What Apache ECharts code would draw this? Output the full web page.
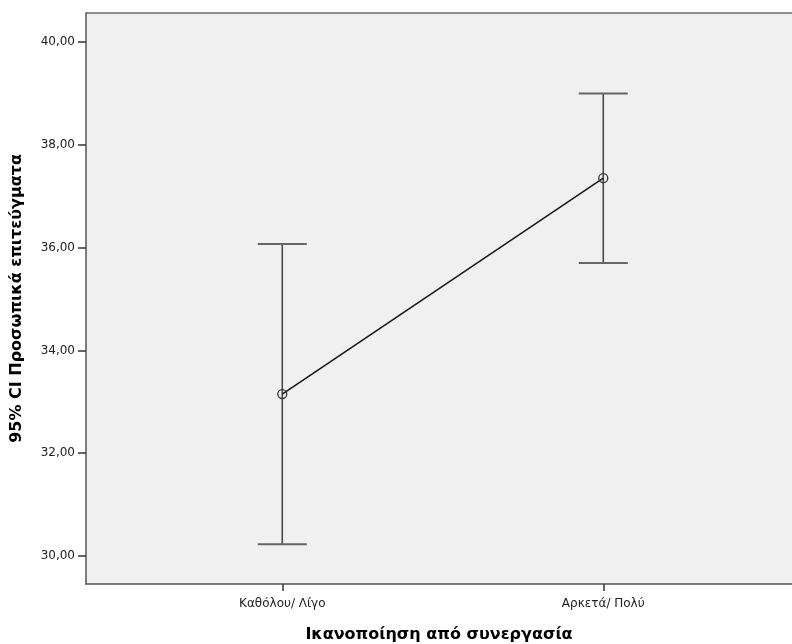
<!DOCTYPE html>
<html>
<head>
<meta charset="utf-8">
<script src="https://cdn.jsdelivr.net/npm/echarts@6/dist/echarts.min.js"></script>
<style>
html,body{margin:0;padding:0;background:#fff;}
#c{width:792px;height:644px;}
</style>
</head>
<body>
<div id="c"></div>
<script>
var categories = ["Καθόλου/ Λίγο", "Αρκετά/ Πολύ"];
var means = [33.15, 37.35];
var lowerCI = [30.23, 35.70];
var upperCI = [36.07, 39.00];
var yTicks = [30, 32, 34, 36, 38, 40];
var xTitle = "Ικανοποίηση από συνεργασία";
var yTitle = "95% CI Προσωπικά επιτεύγματα";

var font = "'DejaVu Sans', Verdana, sans-serif";
var chart = echarts.init(document.getElementById('c'), null, {renderer: 'canvas'});

var lineData = means.map(function (m, i) { return [i, m]; });
var errData = means.map(function (m, i) { return [i, lowerCI[i], upperCI[i]]; });

chart.setOption({
  animation: false,
  backgroundColor: '#ffffff',
  grid: {
    left: 86, top: 13, right: 0, bottom: 60,
    outerBoundsMode: 'none',
    containLabel: false,
    show: true, backgroundColor: '#f0f0f0',
    borderWidth: 0
  },
  xAxis: [{
    type: 'value',
    min: -0.6115, max: 1.588,
    splitLine: {show: false},
    axisLine: {show: true, onZero: false, lineStyle: {color: '#555', width: 1.5}},
    axisTick: {show: true, length: 7, customValues: [0, 1], lineStyle: {color: '#333', width: 1.5}},
    axisLabel: {
      customValues: [0, 1],
      formatter: function (v) { return categories[Math.round(v)]; },
      color: '#222', fontFamily: font, fontSize: 12, margin: 14
    },
    name: xTitle, nameLocation: 'middle', nameGap: 43,
    nameTextStyle: {fontFamily: font, fontSize: 16, fontWeight: 'bold', color: '#000'}
  }, {
    type: 'value',
    position: 'top',
    min: -0.6115, max: 1.588,
    splitLine: {show: false},
    axisLine: {show: true, onZero: false, lineStyle: {color: '#6a6a6a', width: 1.5}},
    axisTick: {show: false},
    axisLabel: {show: false}
  }],
  yAxis: {
    type: 'value',
    min: 29.455, max: 40.564,
    splitLine: {show: false},
    axisLine: {show: true, onZero: false, lineStyle: {color: '#555', width: 1.5}},
    axisTick: {show: true, length: 8, customValues: yTicks, lineStyle: {color: '#333', width: 1.5}},
    axisLabel: {
      customValues: yTicks,
      formatter: function (v) { return v.toFixed(2).replace('.', ','); },
      color: '#222', fontFamily: font, fontSize: 12, margin: 11
    },
    name: yTitle, nameLocation: 'middle', nameGap: 61, nameRotate: 90,
    nameTextStyle: {fontFamily: font, fontSize: 16, fontWeight: 'bold', color: '#000'}
  },
  series: [
    {
      type: 'custom',
      data: errData,
      z: 2,
      renderItem: function (params, api) {
        var x = api.value(0);
        var lo = api.coord([x, api.value(1)]);
        var hi = api.coord([x, api.value(2)]);
        var hw = 24.5;
        var st = {stroke: '#4a4a4a', lineWidth: 1.6};
        return {
          type: 'group',
          children: [
            {type: 'line', shape: {x1: lo[0], y1: lo[1], x2: hi[0], y2: hi[1]}, style: st},
            {type: 'line', shape: {x1: lo[0] - hw, y1: lo[1], x2: lo[0] + hw, y2: lo[1]}, style: {stroke: '#666', lineWidth: 2}},
            {type: 'line', shape: {x1: hi[0] - hw, y1: hi[1], x2: hi[0] + hw, y2: hi[1]}, style: {stroke: '#666', lineWidth: 2}}
          ]
        };
      }
    },
    {
      type: 'line',
      data: lineData,
      z: 3,
      symbol: 'circle',
      symbolSize: 9,
      showSymbol: true,
      lineStyle: {color: '#1a1a1a', width: 1.6},
      itemStyle: {color: 'rgba(0,0,0,0)', borderColor: '#333', borderWidth: 1.3}
    }
  ]
});
</script>
</body>
</html>
